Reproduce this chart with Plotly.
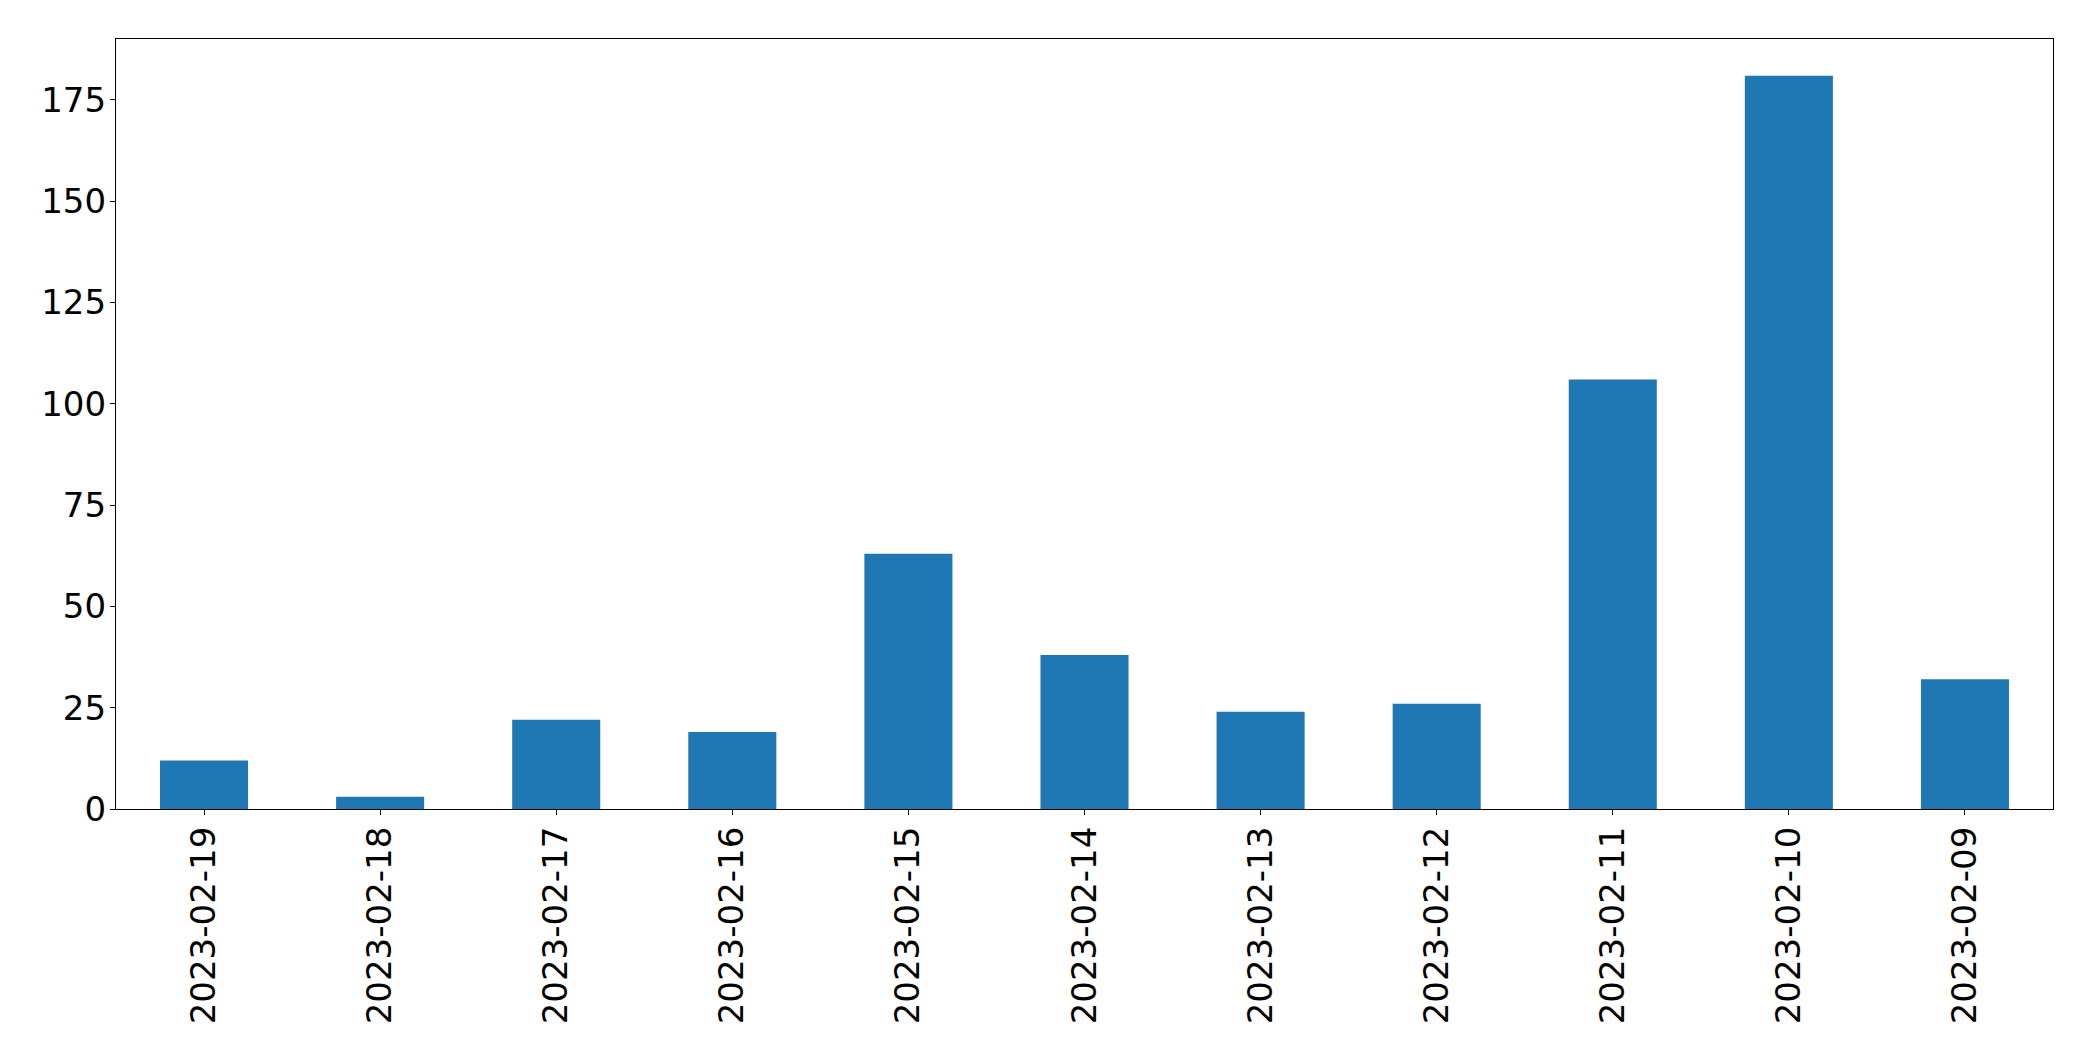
import plotly.graph_objects as go

dates = ["2023-02-19", "2023-02-18", "2023-02-17", "2023-02-16", "2023-02-15",
         "2023-02-14", "2023-02-13", "2023-02-12", "2023-02-11", "2023-02-10",
         "2023-02-09"]
counts = [12, 3, 22, 19, 63, 38, 24, 26, 106, 181, 32]
y_ticks = [0, 25, 50, 75, 100, 125, 150, 175]

fig = go.Figure(go.Bar(x=dates, y=counts, marker_color="#1f77b4",
                       marker_line_width=0, width=0.5))

font = dict(family="DejaVu Sans", size=34, color="black")
fig.update_layout(
    width=2085, height=1053,
    margin=dict(l=108, r=40, t=31, b=252),
    plot_bgcolor="white", paper_bgcolor="white",
    showlegend=False, bargap=0.5,
)
fig.update_xaxes(type="category", range=[-0.5, 10.5], tickangle=-90,
                 showline=True, linecolor="black", linewidth=1.2, mirror=True,
                 ticks="outside", ticklen=5, tickwidth=1.2, tickcolor="black",
                 showgrid=False, zeroline=False, tickfont=font, ticklabelstandoff=-2)
fig.update_yaxes(range=[0, 190.05], tickvals=y_ticks,
                 showline=True, linecolor="black", linewidth=1.2, mirror=True,
                 ticks="outside", ticklen=5, tickwidth=1.2, tickcolor="black",
                 showgrid=False, zeroline=False, tickfont=font, ticklabelstandoff=-3)

fig.write_html("out.html")
